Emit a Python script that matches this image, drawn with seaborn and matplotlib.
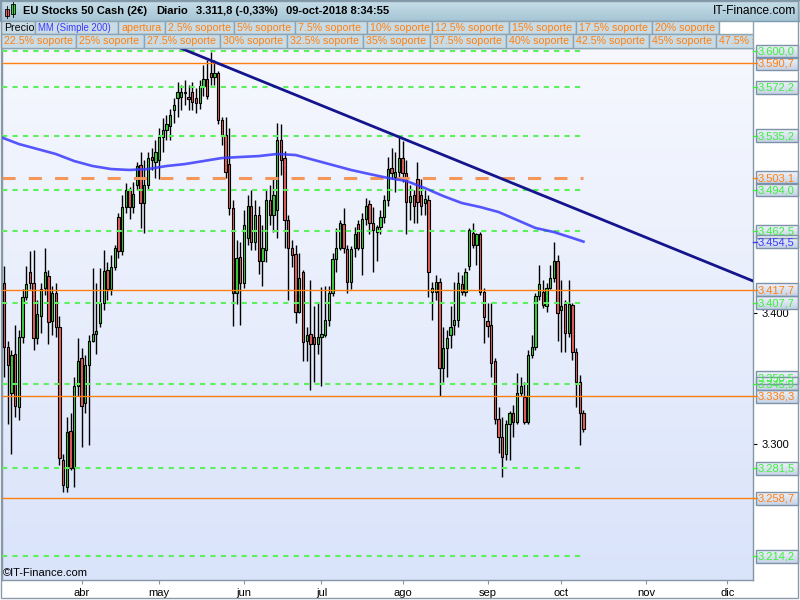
import numpy as np
import pandas as pd
import matplotlib
matplotlib.use("Agg")
import matplotlib.pyplot as plt
from matplotlib.colors import LinearSegmentedColormap
from matplotlib.patches import Rectangle
import seaborn as sns

plt.rcParams['font.family'] = ['Liberation Sans', 'DejaVu Sans']

# daily candles, EU Stocks 50 Cash, from 2-mar-2018 to 9-oct-2018
first_day = "2018-03-02"
opens = [3423, 3374, 3339, 3369, 3328, 3382, 3412, 3431, 3423, 3381,
         3398, 3419, 3428, 3394, 3415, 3389, 3288, 3267, 3310, 3282,
         3344, 3366, 3331, 3360, 3379, 3384, 3392, 3408, 3433, 3418,
         3435, 3473, 3447, 3481, 3494, 3481, 3498, 3513, 3484, 3498,
         3519, 3515, 3517, 3534, 3540, 3543, 3555, 3564, 3565, 3569,
         3565, 3569, 3564, 3560, 3573, 3579, 3583, 3580, 3583, 3547,
         3536, 3514, 3480, 3415, 3443, 3423, 3457, 3482, 3454, 3475,
         3440, 3448, 3486, 3475, 3479, 3532, 3518, 3471, 3450, 3445,
         3401, 3431, 3379, 3384, 3382, 3376, 3382, 3383, 3395, 3415,
         3441, 3450, 3468, 3449, 3424, 3450, 3468, 3450, 3472, 3483,
         3469, 3462, 3466, 3473, 3486, 3511, 3504, 3508, 3518, 3507,
         3485, 3490, 3502, 3490, 3484, 3486, 3416, 3416, 3424, 3358,
         3373, 3383, 3391, 3395, 3422, 3416, 3436, 3461, 3452, 3460,
         3416, 3394, 3391, 3363, 3319, 3305, 3292, 3315, 3324, 3317,
         3339, 3336, 3317, 3368, 3374, 3413, 3416, 3405, 3419, 3427,
         3440, 3402, 3407, 3385, 3406, 3370, 3347, 3324]
highs = [3436, 3379, 3372, 3391, 3387, 3418, 3436, 3447, 3448, 3410,
         3423, 3450, 3433, 3421, 3423, 3398, 3292, 3321, 3324, 3351,
         3381, 3373, 3368, 3383, 3434, 3423, 3434, 3448, 3439, 3444,
         3452, 3476, 3490, 3499, 3496, 3500, 3515, 3523, 3517, 3523,
         3526, 3532, 3541, 3549, 3551, 3556, 3564, 3576, 3574, 3578,
         3574, 3576, 3572, 3578, 3589, 3593, 3599, 3593, 3585, 3550,
         3550, 3541, 3486, 3456, 3454, 3479, 3490, 3494, 3486, 3482,
         3467, 3494, 3498, 3502, 3545, 3544, 3524, 3475, 3456, 3452,
         3446, 3433, 3389, 3425, 3405, 3408, 3420, 3421, 3421, 3446,
         3465, 3471, 3480, 3452, 3451, 3466, 3471, 3476, 3488, 3486,
         3481, 3467, 3479, 3490, 3519, 3526, 3523, 3535, 3531, 3517,
         3498, 3494, 3515, 3502, 3494, 3490, 3424, 3429, 3427, 3389,
         3387, 3405, 3424, 3431, 3429, 3434, 3465, 3469, 3461, 3462,
         3419, 3408, 3408, 3366, 3328, 3321, 3318, 3325, 3330, 3354,
         3351, 3347, 3372, 3383, 3415, 3437, 3425, 3423, 3437, 3454,
         3444, 3425, 3410, 3425, 3408, 3373, 3353, 3326]
lows = [3351, 3315, 3292, 3321, 3318, 3377, 3410, 3418, 3372, 3376,
        3385, 3414, 3376, 3383, 3382, 3284, 3263, 3263, 3280, 3267,
        3337, 3298, 3324, 3299, 3378, 3369, 3389, 3402, 3410, 3414,
        3433, 3442, 3444, 3476, 3472, 3476, 3494, 3465, 3461, 3494,
        3509, 3503, 3502, 3523, 3532, 3532, 3545, 3550, 3555, 3559,
        3555, 3555, 3553, 3556, 3566, 3563, 3574, 3574, 3544, 3528,
        3503, 3475, 3390, 3407, 3391, 3419, 3452, 3448, 3448, 3430,
        3421, 3439, 3467, 3462, 3457, 3505, 3450, 3410, 3435, 3392,
        3400, 3363, 3363, 3341, 3347, 3369, 3344, 3382, 3390, 3413,
        3431, 3448, 3446, 3415, 3418, 3443, 3448, 3429, 3467, 3460,
        3431, 3440, 3460, 3469, 3482, 3502, 3492, 3502, 3500, 3460,
        3471, 3469, 3469, 3475, 3475, 3412, 3395, 3410, 3337, 3347,
        3351, 3373, 3383, 3389, 3414, 3413, 3433, 3450, 3437, 3414,
        3377, 3382, 3351, 3315, 3293, 3275, 3288, 3288, 3305, 3315,
        3337, 3315, 3315, 3366, 3372, 3410, 3404, 3401, 3418, 3424,
        3379, 3370, 3370, 3382, 3364, 3328, 3299, 3309]
closes = [3374, 3360, 3368, 3329, 3382, 3412, 3422, 3423, 3381, 3399,
          3418, 3431, 3393, 3415, 3389, 3289, 3269, 3309, 3282, 3344,
          3363, 3329, 3360, 3379, 3384, 3386, 3408, 3432, 3418, 3435,
          3450, 3447, 3481, 3494, 3481, 3491, 3512, 3484, 3498, 3518,
          3517, 3523, 3534, 3540, 3544, 3551, 3559, 3569, 3569, 3568,
          3563, 3561, 3560, 3573, 3579, 3566, 3580, 3583, 3547, 3536,
          3508, 3480, 3415, 3442, 3423, 3467, 3482, 3454, 3475, 3440,
          3450, 3486, 3475, 3490, 3532, 3517, 3471, 3450, 3444, 3401,
          3427, 3378, 3383, 3376, 3376, 3382, 3384, 3395, 3415, 3441,
          3450, 3469, 3450, 3424, 3449, 3460, 3450, 3472, 3482, 3469,
          3463, 3466, 3473, 3486, 3510, 3507, 3508, 3518, 3507, 3485,
          3489, 3482, 3485, 3482, 3487, 3431, 3419, 3424, 3358, 3373,
          3381, 3389, 3395, 3423, 3416, 3431, 3463, 3452, 3460, 3416,
          3397, 3390, 3362, 3319, 3305, 3290, 3315, 3324, 3317, 3339,
          3344, 3317, 3368, 3374, 3413, 3422, 3406, 3419, 3427, 3440,
          3400, 3405, 3385, 3407, 3370, 3347, 3324, 3311.8]

# MM (Simple 200), read every 5 sessions (session number counted from 1-mar)
ma_pos = [0, 5, 10, 15, 20, 25, 30, 35, 40, 45, 50, 55, 60, 65, 70, 75,
          80, 85, 90, 95, 100, 105, 110, 115, 120, 125, 130, 135, 140,
          145, 150, 155, 158]
ma_vals = [3534.4, 3529.0, 3525.2, 3521.4, 3516.0, 3512.2, 3509.9, 3509.2,
           3509.9, 3512.2, 3513.7, 3516.0, 3518.3, 3519.1, 3519.8, 3521.4,
           3520.6, 3516.8, 3513.0, 3509.2, 3506.1, 3503.1, 3500.8, 3495.4,
           3489.3, 3484.0, 3480.9, 3477.1, 3471.0, 3464.9, 3461.8, 3457.3,
           3454.5]

# downward trend line
trend_dates = ["2018-05-09", "2018-12-12"]
trend_vals = [3602.0, 3424.4]

# support levels
green_levels = [3600.0, 3572.2, 3535.2, 3494.0, 3462.5, 3407.7, 3345.9, 3281.5, 3214.2]
orange_levels = [3590.7, 3417.7, 3336.3, 3258.7]
apertura = 3503.1
hidden_level = 3350.5

month_names = ["abr", "may", "jun", "jul", "ago", "sep", "oct", "nov", "dic"]

row2 = [("Precio", "k", 1, 35), ("MM (Simple 200)", "b", 35, 118),
        ("apertura", "o", 118, 165), ("2.5% soporte", "o", 165, 234),
        ("5% soporte", "o", 234, 295), ("7.5% soporte", "o", 295, 367),
        ("10% soporte", "o", 367, 432), ("12.5% soporte", "o", 432, 509),
        ("15% soporte", "o", 509, 576), ("17.5% soporte", "o", 576, 652),
        ("20% soporte", "o", 652, 719)]
row3 = [("22.5% soporte", "o", 1, 76), ("25% soporte", "o", 76, 144),
        ("27.5% soporte", "o", 144, 220), ("30% soporte", "o", 220, 287),
        ("32.5% soporte", "o", 287, 363), ("35% soporte", "o", 363, 430),
        ("37.5% soporte", "o", 430, 506), ("40% soporte", "o", 506, 573),
        ("42.5% soporte", "o", 573, 649), ("45% soporte", "o", 649, 716),
        ("47.5% soporte", "o", 716, 753)]

GREEN_UP = "#3cd23c"
RED_DN = "#e4605c"
GREEN_LINE = "#5cf05c"
GREEN_TXT = "#3cf03c"
ORANGE = "#ff8010"
ORANGE_DASH = "#f3985a"
BLUE = "#3a3aff"
NAVY = "#14148c"
FRAME = "#8396a8"
txt_col = {"k": "black", "b": BLUE, "o": ORANGE}


def es_fmt(v):
    s = f"{v:,.1f}"
    return s.replace(",", "X").replace(".", ",").replace("X", ".")


o = np.array(opens, float)
h = np.array(highs, float)
l = np.array(lows, float)
c = np.array(closes, float)

cal = pd.bdate_range("2018-03-01", "2018-12-31")
dates = pd.bdate_range(first_day, periods=len(opens))
x = cal.get_indexer(dates)
tick_pos = [cal.searchsorted(pd.Timestamp(f"2018-{m:02d}-01")) for m in range(4, 13)]
trend_x = cal.get_indexer(pd.to_datetime(trend_dates))

X0, X1 = 0.43, 203.95
Y0, Y1 = 3196.2, 3602.3

fig = plt.figure(figsize=(8, 6), dpi=100)
fig.patch.set_facecolor("white")
ax = fig.add_axes([2 / 800, 20 / 600, 751 / 800, 532 / 600])

# plot background gradient
bg = LinearSegmentedColormap.from_list("bg", ["#f6f8fe", "#d9e3fa"])
ax.imshow(np.linspace(0, 1, 256).reshape(-1, 1), cmap=bg, aspect="auto",
          extent=(X0, X1, Y0, Y1), origin="upper", zorder=0, interpolation="bilinear")

# candles
up = c >= o
ax.vlines(x, l, h, color="black", lw=1, zorder=2)
ax.bar(x, np.maximum(np.abs(c - o), 0.7), bottom=np.minimum(o, c), width=0.62,
       color=np.where(up, GREEN_UP, RED_DN), edgecolor="black", linewidth=0.8, zorder=3)

# levels
ax.hlines(green_levels, X0, x[-1], color=GREEN_LINE, lw=1.5,
          linestyles=[(0, (2.5, 2.5))], zorder=4)
ax.hlines(orange_levels, X0, X1, color=ORANGE, lw=1, zorder=4)
ax.hlines([apertura], X0, x[-1], color=ORANGE_DASH, lw=2.2,
          linestyles=[(0, (4.3, 4.3))], zorder=4)

# moving average + trend line
sns.lineplot(x=ma_pos, y=ma_vals, ax=ax, color=BLUE, lw=1.9, alpha=0.85,
             legend=False, zorder=5)
sns.lineplot(x=trend_x, y=trend_vals, ax=ax, color=NAVY, lw=2, legend=False, zorder=6)

ax.set_xlim(X0, X1)
ax.set_ylim(Y0, Y1)
ax.set_xlabel("")
ax.set_ylabel("")
ax.set_xticks(tick_pos)
ax.set_xticklabels(month_names)
ax.yaxis.tick_right()
ax.set_yticks([3300, 3400])
ax.set_yticklabels(["3.300", "3.400"])
ax.tick_params(axis="x", length=3, pad=3, labelsize=8, color=FRAME)
ax.tick_params(axis="y", length=3, pad=3, labelsize=8, color="black")
for sp in ax.spines.values():
    sp.set_color(FRAME)
    sp.set_linewidth(1)

# overlay in pixel units for header, legend rows and price boxes
ov = fig.add_axes([0, 0, 1, 1], zorder=10)
ov.axis("off")
ov.set_xlim(0, 800)
ov.set_ylim(600, 0)


def grad_box(x0, x1, y0, y1, c_top, c_bot, edge):
    cm = LinearSegmentedColormap.from_list("g", [c_top, c_bot])
    ov.imshow(np.linspace(0, 1, 64).reshape(-1, 1), cmap=cm, aspect="auto",
              extent=(x0, x1, y1, y0), origin="upper", interpolation="bilinear")
    ov.add_patch(Rectangle((x0, y0), x1 - x0, y1 - y0, fill=False, ec=edge, lw=1))


# header
grad_box(0, 800, 0, 21, "#c8e0ea", "#a6c5d5", "#7a98aa")
ov.add_patch(Rectangle((5, 9), 4, 7, fc=RED_DN, ec="black", lw=0.6))
ov.plot([7, 7], [6, 18], color="black", lw=0.6)
ov.add_patch(Rectangle((11, 4), 4, 10, fc=GREEN_UP, ec="black", lw=0.6))
ov.plot([13, 13], [2, 17], color="black", lw=0.6)
hdr_kw = dict(fontsize=8, fontweight="bold", va="center", color="black")
ov.text(23, 11, "EU Stocks 50 Cash (2€)", **hdr_kw)
ov.text(156, 11, "Diario", **hdr_kw)
ov.text(196, 11, "3.311,8 (-0,33%)", **hdr_kw)
ov.text(286, 11, "09-oct-2018 8:34:55", **hdr_kw)
ov.text(796, 11, "IT-Finance.com", fontsize=8.7, va="center", ha="right")

# legend rows
for row, (ya, yb) in ((row2, (21, 34)), (row3, (34, 48))):
    for name, col, xa, xb in row:
        ov.add_patch(Rectangle((xa, ya), xb - xa, yb - ya, fc="#c9dce6", ec="#8da4b3", lw=1))
        fs = 6.9 if name.startswith("MM") else 7.7
        t = ov.text(xa + 3, (ya + yb) / 2 + 0.5, name, fontsize=fs, va="center",
                    color=txt_col[col])
        t.set_clip_path(Rectangle((xa, ya), xb - xa, yb - ya, transform=ov.transData))
        t.set_clip_on(True)
ov.add_patch(Rectangle((719, 21), 34, 13, fc="white", ec="#8da4b3", lw=1))

ov.text(3, 573, "©IT-Finance.com", fontsize=8, va="center")


# price boxes on the right
def px(v):
    return 600 - ax.transData.transform((0, v))[1]


boxes = [(p, GREEN_TXT) for p in green_levels] + [(p, ORANGE) for p in orange_levels]
boxes += [(apertura, ORANGE), (ma_vals[-1], BLUE)]
boxes = [(hidden_level, GREEN_TXT)] + sorted(boxes, key=lambda b: -b[0])
for p, col in boxes:
    yc = px(p)
    if p != hidden_level:
        ov.plot([753, 757], [yc, yc], color=col, lw=1)
    grad_box(756, 798, yc - 6.5, yc + 6.5, "#f0f4fb", "#c6d3e6", "#7d92a8")
    ov.text(758, yc + 0.5, es_fmt(p), fontsize=8, va="center", color=col)

ov.add_patch(Rectangle((0.5, 0.5), 797.5, 597.5, fill=False, ec="#8a9aa8", lw=1))
ov.set_xlim(0, 800)
ov.set_ylim(600, 0)

fig.savefig("out.png", dpi=100)
